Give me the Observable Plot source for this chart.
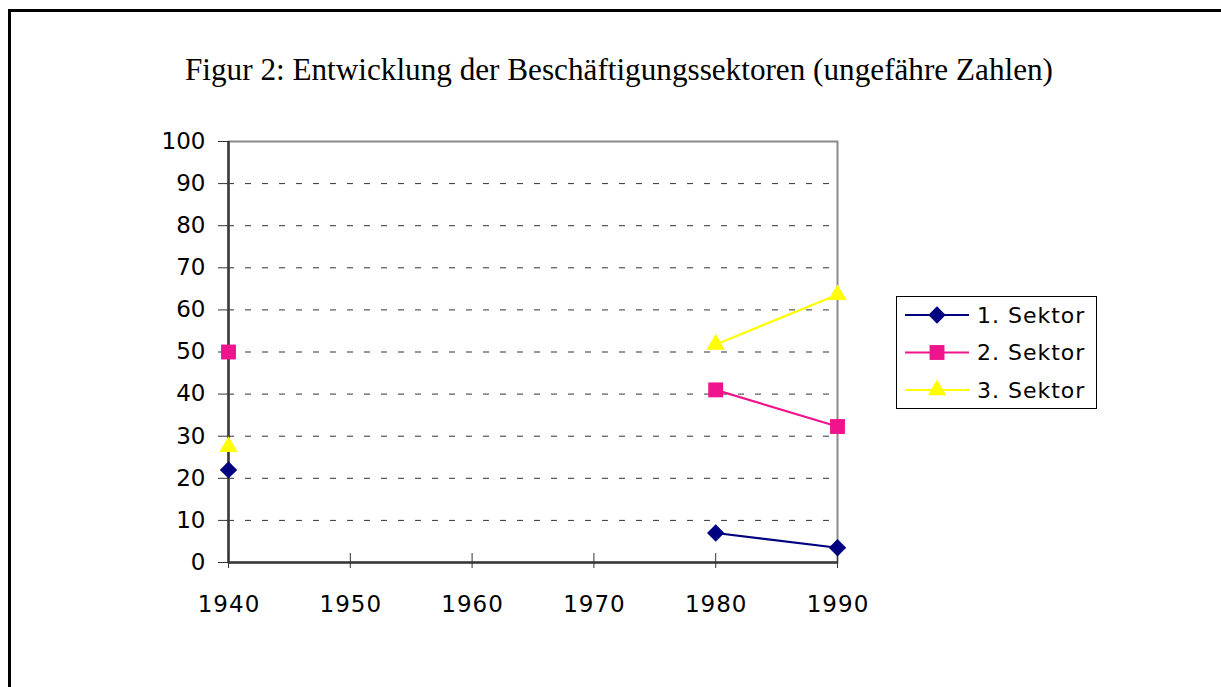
<!DOCTYPE html>
<html><head><meta charset="utf-8">
<script src="https://cdn.jsdelivr.net/npm/d3@7"></script>
<script src="https://cdn.jsdelivr.net/npm/@observablehq/plot@0.6"></script>
<style>
html,body{margin:0;padding:0;background:#fff;}
#wrap{position:relative;width:1221px;height:687px;overflow:hidden;}
#border{position:absolute;left:8px;top:9px;width:1400px;height:900px;border:3px solid #000;box-sizing:border-box;}
#chart,#title,#legend{position:absolute;left:0;top:0;}
</style></head><body>
<div id="wrap"><div id="border"></div><div id="chart"></div><svg id="title" width="1221" height="120"></svg><svg id="legend" width="1221" height="687"></svg></div>
<script>
const titleText = "Figur 2: Entwicklung der Beschäftigungssektoren (ungefähre Zahlen)";
const years = [1940, 1950, 1960, 1970, 1980, 1990];
const seriesNames = ["1. Sektor", "2. Sektor", "3. Sektor"];
const sektor1 = [22, null, null, null, 7, 3.5];
const sektor2 = [50, null, null, null, 41, 32.3];
const sektor3 = [27.5, null, null, null, 51.8, 63.6];
const yTicks = [0, 10, 20, 30, 40, 50, 60, 70, 80, 90, 100];
const colors = ["#000080", "#f0148c", "#ffff00"];
const symbols = ["diamond2", "square", "triangle"];
const radii = [7.8, 8.4, 6.8];

const seriesValues = [sektor1, sektor2, sektor3];
const rows = years.flatMap((yr, i) => seriesValues.map((arr, k) => ({year: yr, value: arr[i], series: seriesNames[k]})));

const W = 1221, H = 687;
const chart = Plot.plot({
  width: W, height: H,
  marginLeft: 228, marginRight: W - 837, marginTop: 141, marginBottom: H - 562,
  style: {fontFamily: "DejaVu Sans", background: "transparent"},
  x: {domain: [1940, 1990]},
  y: {domain: [0, 100]},
  color: {domain: seriesNames, range: colors},
  marks: [
    Plot.ruleY(yTicks.filter(t => t > 0 && t < 100), {stroke: "#333", strokeWidth: 1, strokeDasharray: "6,11"}),
    Plot.frame({stroke: "#8a8a8a", strokeWidth: 2}),
    Plot.ruleX([1940], {stroke: "#3a3a3a", strokeWidth: 2.5}),
    Plot.ruleY([0], {stroke: "#3a3a3a", strokeWidth: 2.5}),
    Plot.axisY({ticks: yTicks, tickSize: 10, tickPadding: 13, fontSize: 23, label: null, stroke: "#333", fill: "#000"}),
    Plot.axisX({ticks: years, tickSize: 15, dy: -9, fill: "none", label: null, stroke: "#333"}),
    Plot.axisX({ticks: years, tickSize: 0, tickPadding: 33, fontSize: 23, label: null, tickFormat: "d", fill: "#000", dx: 0.5}),
    Plot.line(rows, {x: "year", y: "value", z: "series", stroke: "series", strokeWidth: 2.2}),
    ...seriesNames.map((name, k) => Plot.dot(rows.filter(d => d.series === name && d.value != null), {
      x: "year", y: "value", symbol: symbols[k], r: radii[k], fill: colors[k], stroke: "none"
    }))
  ]
});
document.getElementById("chart").appendChild(chart);
d3.select(chart).selectAll("g[aria-label='x-axis tick label'] text").attr("letter-spacing", "1px");

// title
d3.select("#title").append("text")
  .attr("x", 185).attr("y", 80)
  .attr("textLength", 868).attr("lengthAdjust", "spacingAndGlyphs")
  .attr("font-family", "Liberation Serif, Times New Roman, serif")
  .attr("font-size", 32).attr("fill", "#000")
  .text(titleText);

// legend
const lg = d3.select("#legend");
lg.append("rect").attr("x", 896.5).attr("y", 296.5).attr("width", 200).attr("height", 112)
  .attr("fill", "#fff").attr("stroke", "#000").attr("stroke-width", 1);
const symMap = {diamond2: d3.symbolDiamond2, square: d3.symbolSquare, triangle: d3.symbolTriangle};
seriesNames.forEach((name, k) => {
  const cy = 315 + k * 37.5;
  lg.append("line").attr("x1", 905).attr("x2", 969).attr("y1", cy).attr("y2", cy)
    .attr("stroke", colors[k]).attr("stroke-width", 2.2);
  lg.append("path").attr("transform", `translate(937,${cy})`)
    .attr("d", d3.symbol(symMap[symbols[k]], Math.PI * radii[k] * radii[k])())
    .attr("fill", colors[k]);
  lg.append("text").attr("x", 977).attr("y", cy).attr("dy", "0.36em")
    .attr("font-family", "DejaVu Sans").attr("font-size", 22).attr("letter-spacing", "1px")
    .attr("fill", "#000").text(name);
});
</script>
</body></html>
